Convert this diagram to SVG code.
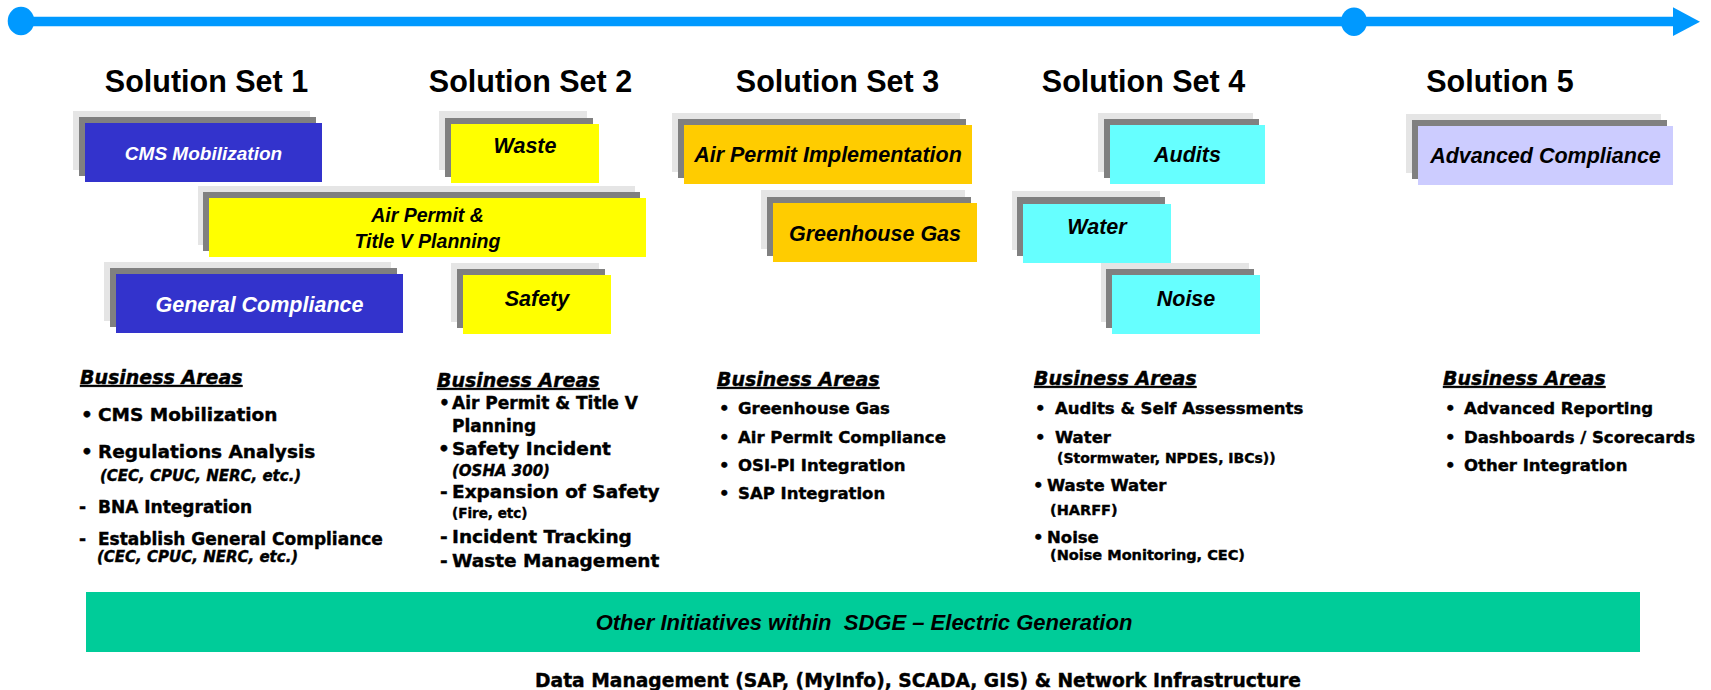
<svg xmlns="http://www.w3.org/2000/svg" width="1711" height="690" viewBox="0 0 1711 690">
<style>
.bg{fill:#ffffff}
.lt{fill:#e5e5e5}
.dk{fill:#808080}
.blue{fill:#3333cc}
.yel{fill:#ffff00}
.org{fill:#ffcc00}
.cyn{fill:#66ffff}
.lav{fill:#ccccff}
.title{font-family:"Liberation Sans",Arial,sans-serif;font-weight:bold;font-size:30.5px;fill:#000;text-anchor:middle}
.lbl{font-family:"Liberation Sans",Arial,sans-serif;font-weight:bold;font-style:italic;font-size:21.5px;fill:#000;text-anchor:middle}
.wl{fill:#ffffff}
.hd{font-family:"DejaVu Sans",Verdana,sans-serif;font-weight:bold;font-style:italic;font-size:19px;fill:#000;stroke:#000;stroke-width:0.4;text-decoration:underline}
.li{font-family:"DejaVu Sans",Verdana,sans-serif;font-weight:bold;fill:#000;stroke:#000;stroke-width:0.4}
.s185{font-size:18.5px}
.s17{font-size:17px}
.s165{font-size:16.5px}
.sm{font-size:14.5px}
.smi{font-size:15px;font-style:italic}
.band{fill:#00cc99}
.bandtxt{font-family:"Liberation Sans",Arial,sans-serif;font-weight:bold;font-style:italic;font-size:22px;fill:#000;text-anchor:middle;white-space:pre}
.foot{font-family:"DejaVu Sans",Verdana,sans-serif;font-weight:bold;font-size:18.7px;fill:#000;stroke:#000;stroke-width:0.4;text-anchor:middle}
.tl{stroke:#0099ff;stroke-width:9.5;fill:none}
.tlf{fill:#0099ff}
</style>
<rect class="bg" x="0" y="0" width="1711" height="690"/>

<g id="connectors">
  <line class="tl" x1="21" y1="21.5" x2="1676" y2="21.5"/>
  <polygon class="tlf" points="1673,7.3 1700,21.7 1673,36"/>
  <ellipse class="tlf" cx="21" cy="21" rx="13.3" ry="14.3"/>
  <ellipse class="tlf" cx="1354" cy="21.7" rx="13" ry="14.3"/>
</g>

<g id="titles">
  <text class="title" x="206.5" y="92">Solution Set 1</text>
  <text class="title" x="530.5" y="92">Solution Set 2</text>
  <text class="title" x="837.5" y="92">Solution Set 3</text>
  <text class="title" x="1143.5" y="92">Solution Set 4</text>
  <text class="title" x="1500" y="92">Solution 5</text>
</g>

<g id="node-cms-mobilization">
  <rect class="lt" x="73" y="111" width="237" height="59"/>
  <rect class="dk" x="79" y="117" width="237" height="59"/>
  <rect class="blue" x="85" y="123" width="237" height="59"/>
  <text class="lbl wl" x="203.5" y="160" style="font-size:19px">CMS Mobilization</text>
</g>

<g id="node-air-permit-planning">
  <rect class="lt" x="198" y="186" width="437" height="59"/>
  <rect class="dk" x="203" y="192" width="437" height="59"/>
  <rect class="yel" x="209" y="198" width="437" height="59"/>
  <text class="lbl" x="427.5" y="222" style="font-size:19.5px">Air Permit &amp;</text>
  <text class="lbl" x="427.5" y="248" style="font-size:19.5px">Title V Planning</text>
</g>

<g id="node-general-compliance">
  <rect class="lt" x="104" y="262" width="287" height="59"/>
  <rect class="dk" x="110" y="268" width="287" height="59"/>
  <rect class="blue" x="116" y="274" width="287" height="59"/>
  <text class="lbl wl" x="259.5" y="312">General Compliance</text>
</g>

<g id="node-waste">
  <rect class="lt" x="439" y="111" width="148" height="59"/>
  <rect class="dk" x="445" y="118" width="148" height="59"/>
  <rect class="yel" x="451" y="124" width="148" height="59"/>
  <text class="lbl" x="525" y="153">Waste</text>
</g>

<g id="node-safety">
  <rect class="lt" x="451" y="263" width="148" height="59"/>
  <rect class="dk" x="457" y="269" width="148" height="59"/>
  <rect class="yel" x="463" y="275" width="148" height="59"/>
  <text class="lbl" x="537" y="306">Safety</text>
</g>

<g id="node-air-permit-implementation">
  <rect class="lt" x="672" y="113" width="288" height="59"/>
  <rect class="dk" x="678" y="119" width="288" height="59"/>
  <rect class="org" x="684" y="125" width="288" height="59"/>
  <text class="lbl" x="828" y="162">Air Permit Implementation</text>
</g>

<g id="node-greenhouse-gas">
  <rect class="lt" x="761" y="190" width="204" height="59"/>
  <rect class="dk" x="767" y="197" width="204" height="59"/>
  <rect class="org" x="773" y="203" width="204" height="59"/>
  <text class="lbl" x="875" y="241">Greenhouse Gas</text>
</g>

<g id="node-audits">
  <rect class="lt" x="1098" y="113" width="155" height="59"/>
  <rect class="dk" x="1104" y="119" width="155" height="59"/>
  <rect class="cyn" x="1110" y="125" width="155" height="59"/>
  <text class="lbl" x="1187.5" y="162">Audits</text>
</g>

<g id="node-water">
  <rect class="lt" x="1012" y="191" width="148" height="59"/>
  <rect class="dk" x="1017" y="197" width="148" height="59"/>
  <rect class="cyn" x="1023" y="204" width="148" height="59"/>
  <text class="lbl" x="1097" y="234">Water</text>
</g>

<g id="node-noise">
  <rect class="lt" x="1101" y="263" width="148" height="59"/>
  <rect class="dk" x="1106" y="269" width="148" height="59"/>
  <rect class="cyn" x="1112" y="275" width="148" height="59"/>
  <text class="lbl" x="1186" y="306">Noise</text>
</g>

<g id="node-advanced-compliance">
  <rect class="lt" x="1406" y="114" width="255" height="59"/>
  <rect class="dk" x="1412" y="120" width="255" height="59"/>
  <rect class="lav" x="1418" y="126" width="255" height="59"/>
  <text class="lbl" x="1545.5" y="163">Advanced Compliance</text>
</g>

<g id="areas-1">
  <text class="hd" x="80" y="384">Business Areas</text>
  <text class="li s185" y="421"><tspan x="81">•</tspan><tspan x="98">CMS Mobilization</tspan></text>
  <text class="li s185" y="458"><tspan x="81">•</tspan><tspan x="98">Regulations Analysis</tspan></text>
  <text class="li smi" x="100" y="481">(CEC, CPUC, NERC, etc.)</text>
  <text class="li s17" y="513"><tspan x="79">-</tspan><tspan x="98">BNA Integration</tspan></text>
  <text class="li s17" y="545"><tspan x="79">-</tspan><tspan x="98">Establish General Compliance</tspan></text>
  <text class="li smi" x="97" y="562">(CEC, CPUC, NERC, etc.)</text>
</g>

<g id="areas-2">
  <text class="hd" x="437" y="387">Business Areas</text>
  <text class="li s17" y="409"><tspan x="439">•</tspan><tspan x="452">Air Permit &amp; Title V</tspan></text>
  <text class="li s17" x="452" y="432">Planning</text>
  <text class="li s185" y="455"><tspan x="438">•</tspan><tspan x="452">Safety Incident</tspan></text>
  <text class="li smi" x="452" y="476">(OSHA 300)</text>
  <text class="li s185" y="498"><tspan x="440">-</tspan><tspan x="452">Expansion of Safety</tspan></text>
  <text class="li sm" x="452" y="518" style="font-size:13.5px">(Fire, etc)</text>
  <text class="li s185" y="543"><tspan x="440">-</tspan><tspan x="452">Incident Tracking</tspan></text>
  <text class="li s185" y="567"><tspan x="440">-</tspan><tspan x="452">Waste Management</tspan></text>
</g>

<g id="areas-3">
  <text class="hd" x="717" y="386">Business Areas</text>
  <text class="li s165" y="414"><tspan x="719">•</tspan><tspan x="738">Greenhouse Gas</tspan></text>
  <text class="li s165" y="443"><tspan x="719">•</tspan><tspan x="738">Air Permit Compliance</tspan></text>
  <text class="li s165" y="471"><tspan x="719">•</tspan><tspan x="738">OSI-PI Integration</tspan></text>
  <text class="li s165" y="499"><tspan x="719">•</tspan><tspan x="738">SAP Integration</tspan></text>
</g>

<g id="areas-4">
  <text class="hd" x="1034" y="385">Business Areas</text>
  <text class="li s165" y="414"><tspan x="1035">•</tspan><tspan x="1055">Audits &amp; Self Assessments</tspan></text>
  <text class="li s165" y="443"><tspan x="1035">•</tspan><tspan x="1055">Water</tspan></text>
  <text class="li sm" x="1057" y="463" style="font-size:14px">(Stormwater, NPDES, IBCs))</text>
  <text class="li s165" y="491"><tspan x="1033">•</tspan><tspan x="1047">Waste Water</tspan></text>
  <text class="li sm" x="1050" y="515">(HARFF)</text>
  <text class="li s165" y="543"><tspan x="1033">•</tspan><tspan x="1047">Noise</tspan></text>
  <text class="li sm" x="1050" y="560">(Noise Monitoring, CEC)</text>
</g>

<g id="areas-5">
  <text class="hd" x="1443" y="385">Business Areas</text>
  <text class="li s165" y="414"><tspan x="1445">•</tspan><tspan x="1464">Advanced Reporting</tspan></text>
  <text class="li s165" y="443"><tspan x="1445">•</tspan><tspan x="1464">Dashboards / Scorecards</tspan></text>
  <text class="li s165" y="471"><tspan x="1445">•</tspan><tspan x="1464">Other Integration</tspan></text>
</g>

<g id="node-other-initiatives">
  <rect class="band" x="86" y="592" width="1554" height="60"/>
  <text class="bandtxt" x="864" y="630" xml:space="preserve">Other Initiatives within  SDGE – Electric Generation</text>
</g>

<g id="footer">
  <text class="foot" x="918" y="687">Data Management (SAP, (MyInfo), SCADA, GIS) &amp; Network Infrastructure</text>
</g>
</svg>
